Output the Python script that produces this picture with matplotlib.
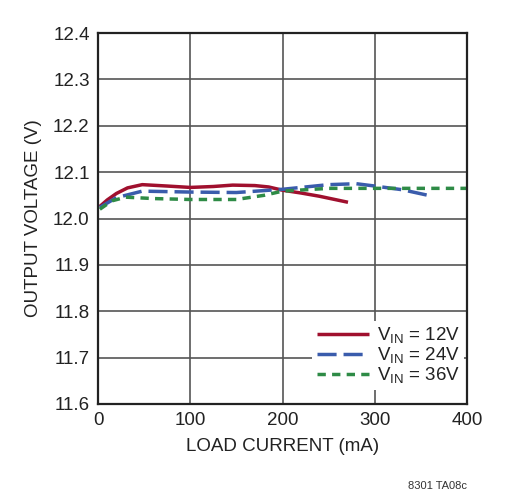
import matplotlib
matplotlib.use("Agg")
import matplotlib.pyplot as plt

# values
red_x = [2, 10, 20, 32, 48, 75, 100, 125, 146, 170, 185, 200, 220, 240, 271]
red_y = [12.026, 12.040, 12.054, 12.066, 12.073, 12.070, 12.067, 12.069, 12.072, 12.071, 12.068, 12.061, 12.055, 12.048, 12.035]
blue_x = [2, 20, 48, 100, 150, 200, 250, 280, 300, 330, 360]
blue_y = [12.024, 12.045, 12.059, 12.057, 12.056, 12.063, 12.073, 12.075, 12.070, 12.062, 12.049]
green_x = [2, 15, 30, 60, 100, 150, 180, 200, 250, 300, 350, 400]
green_y = [12.020, 12.038, 12.046, 12.043, 12.041, 12.041, 12.050, 12.059, 12.065, 12.065, 12.065, 12.065]
labels = ['12V', '24V', '36V']
x_ticks = [0, 100, 200, 300, 400]
y_ticks = [11.6, 11.7, 11.8, 11.9, 12.0, 12.1, 12.2, 12.3, 12.4]

fam = 'Liberation Sans'
plt.rcParams['font.family'] = [fam, 'DejaVu Sans']
plt.rcParams['mathtext.fontset'] = 'custom'
plt.rcParams['mathtext.rm'] = fam
plt.rcParams['mathtext.it'] = fam

fig = plt.figure(figsize=(5.26, 5.0), dpi=100)
ax = fig.add_axes([98 / 526, 1 - 404 / 500, 369 / 526, 371 / 500])

ax.plot(red_x, red_y, color='#a0102e', lw=2.5, solid_capstyle='butt',
        label=r'V$_{\rm IN}$ = ' + labels[0])
ax.plot(blue_x, blue_y, color='#3a5cac', lw=2.5, linestyle=(0, (5.5, 2)),
        label=r'V$_{\rm IN}$ = ' + labels[1])
ax.plot(green_x, green_y, color='#2e8b46', lw=2.5, linestyle=(0, (2.4, 1.8)),
        label=r'V$_{\rm IN}$ = ' + labels[2])

ax.set_xlim(0, 400)
ax.set_ylim(11.6, 12.4)
ax.set_xticks(x_ticks)
ax.set_yticks(y_ticks)
ax.set_yticklabels([f'{v:.1f}' for v in y_ticks])
ax.grid(True, color='#555555', lw=1.2)
ax.tick_params(length=0, labelsize=13.5, pad=6, colors='#222222')
for s in ax.spines.values():
    s.set_linewidth(1.6)
    s.set_color('#222222')

ax.set_xlabel('LOAD CURRENT (mA)', fontsize=13.5, labelpad=6, color='#222222')
ax.set_ylabel('OUTPUT VOLTAGE (V)', fontsize=13.5, labelpad=8, color='#222222')

leg = ax.legend(loc='lower right', bbox_to_anchor=(1.0, 0.03), fontsize=13.5,
                frameon=True, fancybox=False, edgecolor='none', framealpha=1,
                handlelength=2.8, handletextpad=0.4, labelspacing=0.0,
                borderpad=0.25, borderaxespad=0.15)
for t in leg.get_texts():
    t.set_color('#222222')

fig.text(467 / 526, 1 - 486 / 500, '8301 TA08c', fontsize=8, ha='right',
         va='center', color='#333333')

fig.savefig('out.png', dpi=100)
